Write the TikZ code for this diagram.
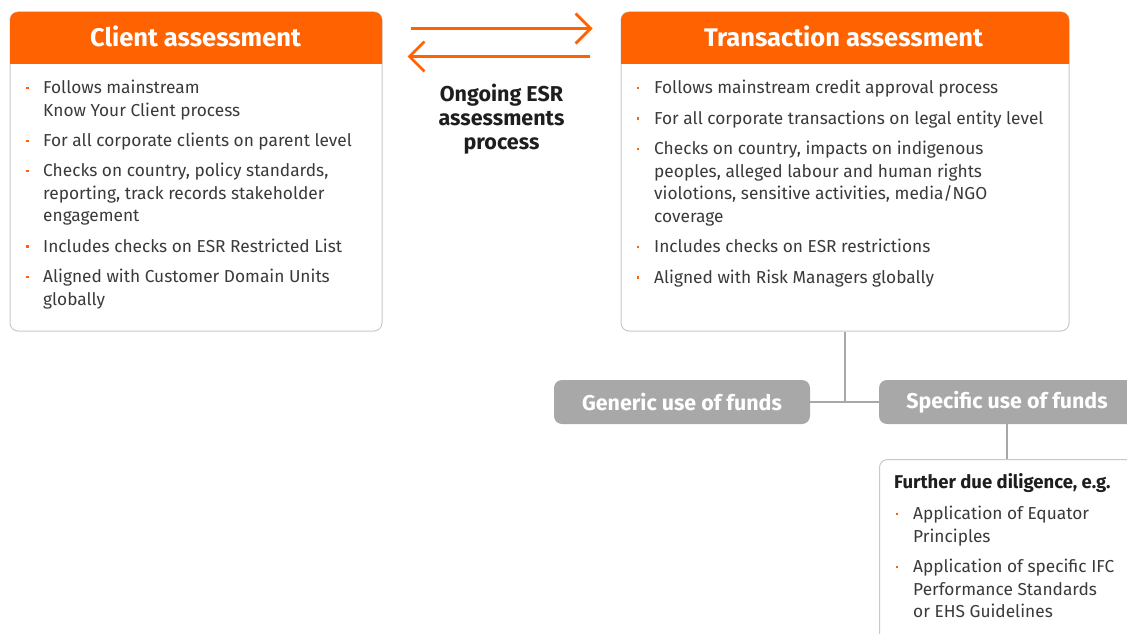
\documentclass[tikz,border=0pt]{standalone}
\usepackage{fontspec}
\setmainfont{Fira Sans}
\usetikzlibrary{arrows.meta,calc}
\definecolor{ingorange}{HTML}{FF6200}
\definecolor{boxgray}{HTML}{A8A8A8}
\definecolor{bordergray}{HTML}{C8C8C8}
\definecolor{txtgray}{HTML}{3A3A3A}
\definecolor{darktxt}{HTML}{1E1E1E}
\begin{document}
\begin{tikzpicture}[x=1pt,y=-1pt,
  panel/.style={draw=bordergray, line width=1pt, rounded corners=8pt, fill=white, inner sep=0},
  ttl/.style={font=\fontsize{25.5}{29}\selectfont\bfseries, text=white, anchor=base, inner sep=0},
  txt/.style={font=\fontsize{17.3}{20}\selectfont, text=txtgray, anchor=base west, inner sep=0},
  bul/.style={fill=ingorange, minimum size=2.6pt, inner sep=0, draw=none},
  pill/.style={fill=boxgray, rounded corners=8pt, inner sep=0, minimum width=256pt, minimum height=44pt,
               font=\fontsize{21.4}{24}\selectfont\bfseries, text=white},
  conn/.style={draw=boxgray, line width=2pt},
  arr/.style={draw=ingorange, line width=2.7pt, -{Straight Barb[length=15pt,width=30pt]}}
]
\useasboundingbox (0,0) rectangle (1127,634);
\clip (0,0) rectangle (1127,634);

% ---------- Client assessment ----------
\node[panel, minimum width=372pt, minimum height=319pt] (client) at (196,171.5) {};
\fill[ingorange] (10,64) [rounded corners=8pt] -- (10,12) -- (382,12) [sharp corners] -- (382,64) -- cycle;
\node[ttl] (ctitle) at (195.5,46.7) {Client assessment};

\node[bul] (cb1) at (27.5,88) {};
\node[txt] (c1a) at (43,93.5) {Follows mainstream};
\node[txt] (c1b) at (43,116.5) {Know Your Client process};
\node[bul] (cb2) at (27.5,141) {};
\node[txt] (c2a) at (43,146.5) {For all corporate clients on parent level};
\node[bul] (cb3) at (27.5,171) {};
\node[txt] (c3a) at (43,176.5) {Checks on country, policy standards,};
\node[txt] (c3b) at (43,199) {reporting, track records stakeholder};
\node[txt] (c3c) at (43,221.5) {engagement};
\node[bul] (cb4) at (27.5,246.5) {};
\node[txt] (c4a) at (43,252) {Includes checks on ESR Restricted List};
\node[bul] (cb5) at (27.5,277) {};
\node[txt] (c5a) at (43,282.5) {Aligned with Customer Domain Units};
\node[txt] (c5b) at (43,305) {globally};

% ---------- Transaction assessment ----------
\node[panel, minimum width=448pt, minimum height=319pt] (trans) at (845,171.5) {};
\fill[ingorange] (621,64) [rounded corners=8pt] -- (621,12) -- (1069,12) [sharp corners] -- (1069,64) -- cycle;
\node[ttl] (ttitle) at (843.5,46.7) {Transaction assessment};

\node[bul] (tb1) at (638,88) {};
\node[txt] (t1a) at (654,93.5) {Follows mainstream credit approval process};
\node[bul] (tb2) at (638,118.5) {};
\node[txt] (t2a) at (654,124) {For all corporate transactions on legal entity level};
\node[bul] (tb3) at (638,149) {};
\node[txt] (t3a) at (654,154.5) {Checks on country, impacts on indigenous};
\node[txt] (t3b) at (654,177) {peoples, alleged labour and human rights};
\node[txt] (t3c) at (654,199.5) {violotions, sensitive activities, media/NGO};
\node[txt] (t3d) at (654,222) {coverage};
\node[bul] (tb4) at (638,247) {};
\node[txt] (t4a) at (654,252.5) {Includes checks on ESR restrictions};
\node[bul] (tb5) at (638,277.5) {};
\node[txt] (t5a) at (654,283) {Aligned with Risk Managers globally};

% ---------- arrows ----------
\draw[arr, shorten <=28pt, shorten >=28pt] ([yshift=-17pt]client.north east) -- ([yshift=-17pt]trans.north west);
\draw[arr, shorten <=31pt, shorten >=25pt] ([yshift=-45pt]trans.north west) -- ([yshift=-45pt]client.north east);
\node[font=\fontsize{21.5}{24}\selectfont\bfseries, text=darktxt, align=center, anchor=north, inner sep=0] (ongoing) at (501.5,84) {Ongoing ESR\\assessments\\process};

% ---------- use of funds ----------
\node[pill] (gen) at (682,402) {Generic use of funds};
\node[pill] (spec) at (1007,402) {Specific use of funds};
\node[panel, minimum width=256pt, minimum height=190pt, anchor=north west] (further) at (879,459) {};

\draw[conn] (trans.south) -- (trans.south |- gen.east);
\draw[conn] (gen.east) -- (spec.west);
\draw[conn] (spec.south) -- (further.north -| spec.south);

\node[txt, font=\fontsize{18.5}{21}\selectfont\bfseries, text=darktxt] (fhead) at (894,488.5) {Further due diligence, e.g.};
\node[bul] (fb1) at (897,514) {};
\node[txt] (f1a) at (913,519.5) {Application of Equator};
\node[txt] (f1b) at (913,542) {Principles};
\node[bul] (fb2) at (897,567) {};
\node[txt] (f2a) at (913,572.5) {Application of specific IFC};
\node[txt] (f2b) at (913,595) {Performance Standards};
\node[txt] (f2c) at (913,617.5) {or EHS Guidelines};
\end{tikzpicture}
\end{document}
